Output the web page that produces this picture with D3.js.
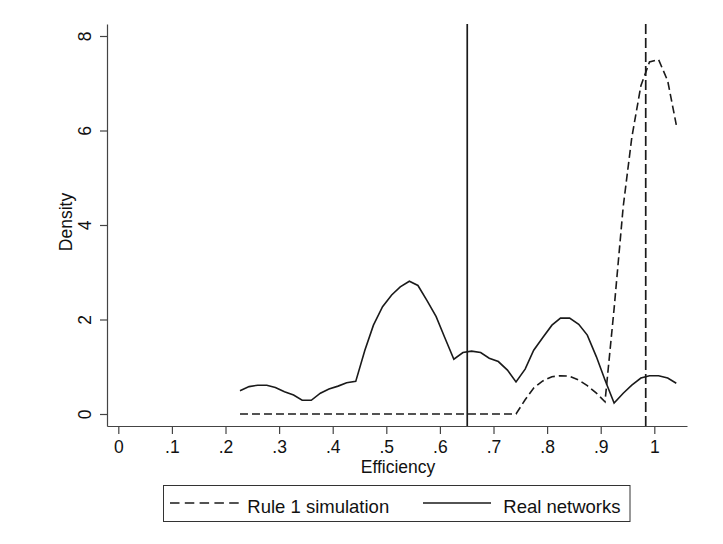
<!DOCTYPE html>
<html>
<head>
<meta charset="utf-8">
<script src="https://cdn.jsdelivr.net/npm/d3@7"></script>
<style>
    body { margin: 0; background: #fff; }
    svg { font-family: "Liberation Sans", Arial, Helvetica, sans-serif; }
</style>
</head>
<body>
<svg id="drawing_region"></svg>
<script>
// kdensity grid (efficiency) and the two estimated densities
const efficiency = [0.227, 0.244, 0.260, 0.277, 0.293, 0.310, 0.327, 0.343, 0.360, 0.377,
                    0.393, 0.410, 0.426, 0.443, 0.460, 0.476, 0.493, 0.510, 0.526, 0.543,
                    0.559, 0.576, 0.593, 0.609, 0.626, 0.643, 0.659, 0.676, 0.692, 0.709,
                    0.726, 0.742, 0.759, 0.775, 0.792, 0.809, 0.825, 0.842, 0.859, 0.875,
                    0.892, 0.908, 0.925, 0.942, 0.958, 0.975, 0.991, 1.008, 1.025, 1.041];

const real_networks = [0.49, 0.58, 0.61, 0.61, 0.56, 0.47, 0.40, 0.29, 0.29, 0.44,
                       0.53, 0.59, 0.66, 0.69, 1.35, 1.88, 2.27, 2.52, 2.69, 2.81,
                       2.72, 2.40, 2.06, 1.62, 1.16, 1.30, 1.33, 1.30, 1.18, 1.11,
                       0.93, 0.68, 0.95, 1.35, 1.62, 1.88, 2.03, 2.03, 1.90, 1.67,
                       1.21, 0.72, 0.23, 0.44, 0.61, 0.76, 0.81, 0.81, 0.76, 0.65];

const rule1_sim = [0, 0, 0, 0, 0, 0, 0, 0, 0, 0,
                   0, 0, 0, 0, 0, 0, 0, 0, 0, 0,
                   0, 0, 0, 0, 0, 0, 0, 0, 0, 0,
                   0, 0, 0.30, 0.55, 0.70, 0.79, 0.81, 0.80, 0.72, 0.60,
                   0.44, 0.26, 2.23, 4.39, 5.85, 6.95, 7.45, 7.50, 7.05, 6.12];

// vertical reference lines (means)
const real_mean = 0.651;
const sim_mean = 0.984;

const x_ticks = [0, 0.1, 0.2, 0.3, 0.4, 0.5, 0.6, 0.7, 0.8, 0.9, 1];
const y_ticks = [0, 2, 4, 6, 8];

const legend_labels = ["Rule 1 simulation", "Real networks"];

class DensityPlot {

    constructor( config ) {
        this.config = config;
        this.init();
    }

    init() {
        let self = this;

        self.svg = d3.select( self.config.parent )
            .attr('width', self.config.width)
            .attr('height', self.config.height);

        self.xscale = d3.scaleLinear()
            .domain([-0.0211, 1.061])
            .range([107, 687]);

        self.yscale = d3.scaleLinear()
            .domain([-0.254, 8.254])
            .range([426, 24]);

        self.line = d3.line()
            .x( (d, i) => self.xscale( efficiency[i] ) )
            .y( d => self.yscale( d ) );
    }

    render() {
        let self = this;
        const ink = '#1a1a1a';

        // x axis
        const xaxis = d3.axisBottom( self.xscale )
            .tickValues( x_ticks )
            .tickSize(8)
            .tickSizeOuter(0)
            .tickFormat( d => d === 0 ? '0' : d === 1 ? '1' : d3.format('.1f')(d).replace(/^0/, '') );

        const xg = self.svg.append('g')
            .attr('transform', 'translate(0, 426)')
            .call( xaxis );
        xg.select('.domain').attr('stroke', '#444').attr('stroke-width', 1.2);
        xg.selectAll('.tick line').attr('stroke', '#444').attr('stroke-width', 1.2);
        xg.selectAll('.tick text')
            .attr('y', 27)
            .attr('dy', 0)
            .attr('fill', '#111')
            .attr('font-size', '17.5px');

        // y axis with rotated labels
        const yaxis = d3.axisLeft( self.yscale )
            .tickValues( y_ticks )
            .tickSize(7)
            .tickSizeOuter(0);

        const yg = self.svg.append('g')
            .attr('transform', 'translate(107, 0)')
            .call( yaxis );
        yg.select('.domain').attr('stroke', '#444').attr('stroke-width', 1.2);
        yg.selectAll('.tick line').attr('stroke', '#444').attr('stroke-width', 1.2);
        yg.selectAll('.tick text')
            .attr('transform', 'rotate(-90)')
            .attr('x', 0)
            .attr('y', -16.3)
            .attr('dy', 0)
            .attr('text-anchor', 'middle')
            .attr('fill', '#111')
            .attr('font-size', '17.5px');

        // axis titles
        self.svg.append('text')
            .attr('x', 398)
            .attr('y', 473)
            .attr('text-anchor', 'middle')
            .attr('font-size', '17.5px')
            .attr('fill', '#111')
            .text('Efficiency');

        self.svg.append('text')
            .attr('transform', 'translate(72, 222) rotate(-90)')
            .attr('text-anchor', 'middle')
            .attr('font-size', '17.5px')
            .attr('fill', '#111')
            .text('Density');

        // curves
        self.svg.append('path')
            .datum( rule1_sim )
            .attr('d', self.line)
            .attr('fill', 'none')
            .attr('stroke', ink)
            .attr('stroke-width', 1.6)
            .attr('stroke-dasharray', '8,4');

        self.svg.append('path')
            .datum( real_networks )
            .attr('d', self.line)
            .attr('fill', 'none')
            .attr('stroke', ink)
            .attr('stroke-width', 1.6);

        // mean lines
        self.svg.append('line')
            .attr('x1', self.xscale(real_mean)).attr('x2', self.xscale(real_mean))
            .attr('y1', self.yscale.range()[1]).attr('y2', self.yscale.range()[0])
            .attr('stroke', ink)
            .attr('stroke-width', 1.7);

        self.svg.append('line')
            .attr('x1', self.xscale(sim_mean)).attr('x2', self.xscale(sim_mean))
            .attr('y1', self.yscale.range()[1]).attr('y2', self.yscale.range()[0])
            .attr('stroke', ink)
            .attr('stroke-width', 1.7)
            .attr('stroke-dasharray', '10,4');

        // legend
        const legend = self.svg.append('g');
        legend.append('rect')
            .attr('x', 163.5).attr('y', 485.5)
            .attr('width', 466.5).attr('height', 36)
            .attr('fill', 'none')
            .attr('stroke', '#333')
            .attr('stroke-width', 1);

        legend.append('line')
            .attr('x1', 170).attr('x2', 239)
            .attr('y1', 503).attr('y2', 503)
            .attr('stroke', ink)
            .attr('stroke-width', 1.6)
            .attr('stroke-dasharray', '9.5,5.3');
        legend.append('text')
            .attr('x', 247.3).attr('y', 513.3)
            .attr('font-size', '18.5px')
            .attr('fill', '#111')
            .text( legend_labels[0] );

        legend.append('line')
            .attr('x1', 423).attr('x2', 491)
            .attr('y1', 503).attr('y2', 503)
            .attr('stroke', ink)
            .attr('stroke-width', 1.6);
        legend.append('text')
            .attr('x', 503.3).attr('y', 513.3)
            .attr('font-size', '18.5px')
            .attr('fill', '#111')
            .text( legend_labels[1] );
    }
}

const plot = new DensityPlot({
    parent: '#drawing_region',
    width: 723,
    height: 544
});
plot.render();
</script>
</body>
</html>
